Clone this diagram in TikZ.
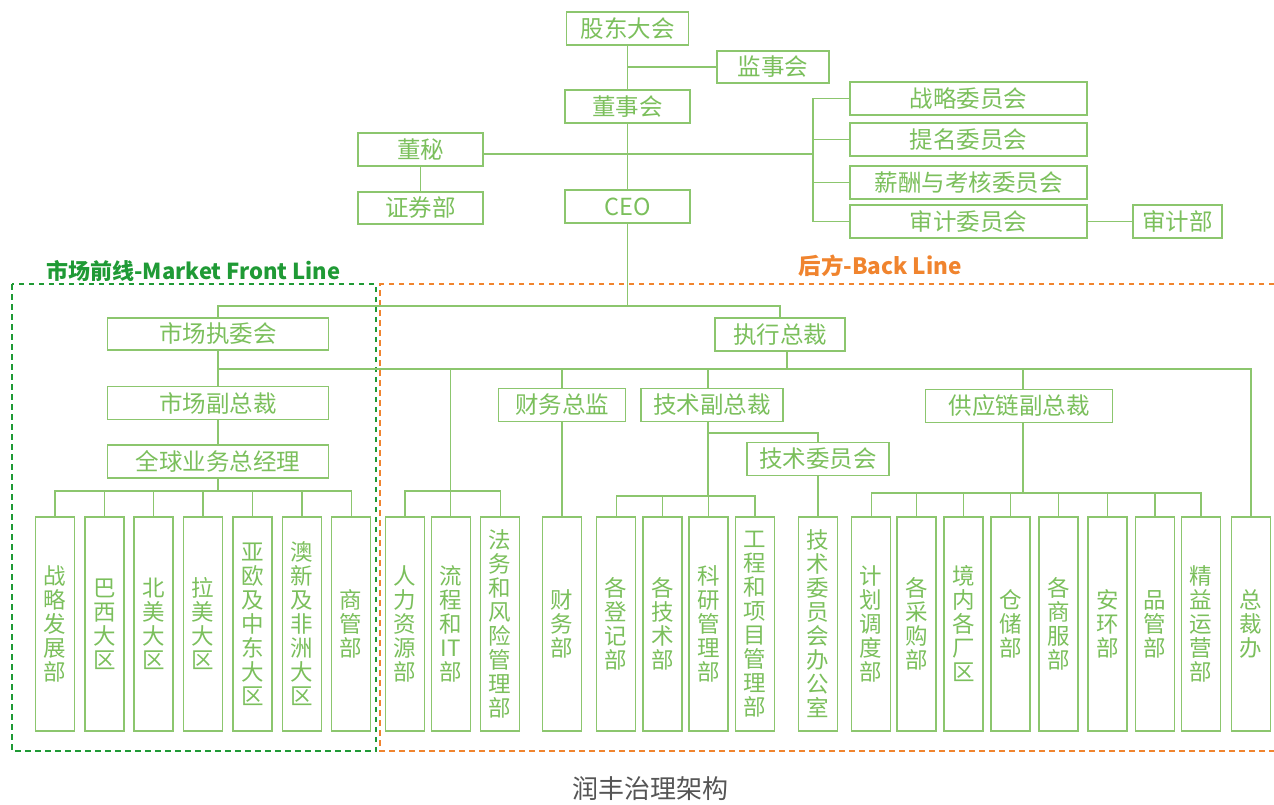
\documentclass[tikz,border=0pt]{standalone}
\usepackage{fontspec}
\usetikzlibrary{calc}
\newfontfamily\cjk{Noto Sans CJK SC}
\definecolor{boxgreen}{HTML}{8CC66E}
\definecolor{txtgreen}{HTML}{7BBF5C}
\definecolor{frontgreen}{HTML}{1F9A35}
\definecolor{backorange}{HTML}{F0842E}
\definecolor{capgray}{HTML}{555555}
\newcommand{\boxh}{33pt}
\newcommand{\tallh}{214pt}

\begin{document}
\begin{tikzpicture}[x=1pt,y=-1pt,
  box/.style={draw=boxgreen, line width=1.4pt, text=txtgreen, inner sep=0pt, minimum height=\boxh, font=\cjk\fontsize{23.5}{24}\selectfont},
  tall/.style={box, minimum width=39pt, minimum height=\tallh, align=center, font=\cjk\fontsize{22.5}{24}\selectfont},
  link/.style={draw=boxgreen, line width=1.2pt},
  zone/.style={line width=2.6pt, dash pattern=on 5.5pt off 4.5pt}]
\useasboundingbox (0,0) rectangle (1274,805);

      \draw[zone, backorange] (1274,284) -- (380,284) -- (380,751) -- (1274,751);
      \draw[zone, frontgreen] (12,284) rectangle (376,751);
      \node (80) at (43,271) [anchor=west, text=frontgreen, font=\cjk\bfseries\fontsize{22}{24}\selectfont] {市场前线-Market Front Line};
      \node (81) at (795,266) [anchor=west, text=backorange, font=\cjk\bfseries\fontsize{22.5}{24}\selectfont] {后方-Back Line};

      \node (1) at (627.5,28.5) [box, minimum width=122pt] {股东大会};
      \node (2) at (773,67) [box, minimum width=112pt, minimum height=32pt] {监事会};
      \node (3) at (627.5,106.5) [box, minimum width=125pt] {董事会};
      \node (4) at (420.5,149.5) [box, minimum width=125pt] {董秘};
      \node (5) at (420.5,208) [box, minimum width=125pt, minimum height=32pt] {证券部};
      \node (6) at (627.5,206.5) [box, minimum width=125pt] {CEO};
      \node (7) at (968.5,98.5) [box, minimum width=237pt] {战略委员会};
      \node (8) at (968.5,139.5) [box, minimum width=237pt] {提名委员会};
      \node (9) at (968.5,182.5) [box, minimum width=237pt] {薪酬与考核委员会};
      \node (10) at (968.5,221.5) [box, minimum width=237pt] {审计委员会};
      \node (11) at (1177.5,221.5) [box, minimum width=89pt] {审计部};

      \node (12) at (218,334) [box, minimum width=221pt, minimum height=32pt] {市场执委会};
      \node (13) at (780,334.5) [box, minimum width=130pt] {执行总裁};
      \node (14) at (218,403) [box, minimum width=221pt] {市场副总裁};
      \node (15) at (218,461.5) [box, minimum width=221pt] {全球业务总经理};
      \node (16) at (562,405) [box, minimum width=127pt] {财务总监};
      \node (17) at (712,405) [box, minimum width=142pt] {技术副总裁};
      \node (18) at (818,459) [box, minimum width=142pt] {技术委员会};
      \node (19) at (1019,406) [box, minimum width=187pt] {供应链副总裁};

      \node (21) at (55,624) [tall] {战\\略\\发\\展\\部};
      \node (22) at (104.3,624) [tall] {巴\\西\\大\\区};
      \node (23) at (153.6,624) [tall] {北\\美\\大\\区};
      \node (24) at (203,624) [tall] {拉\\美\\大\\区};
      \node (25) at (252.4,624) [tall] {亚\\欧\\及\\中\\东\\大\\区};
      \node (26) at (302,624) [tall] {澳\\新\\及\\非\\洲\\大\\区};
      \node (27) at (351.2,624) [tall] {商\\管\\部};
      \node (31) at (405,624) [tall] {人\\力\\资\\源\\部};
      \node (32) at (450.8,624) [tall] {流\\程\\和\\IT\\部};
      \node (33) at (500.2,624) [tall] {法\\务\\和\\风\\险\\管\\理\\部};
      \node (41) at (562,624) [tall] {财\\务\\部};
      \node (51) at (616.2,624) [tall] {各\\登\\记\\部};
      \node (52) at (662.5,624) [tall] {各\\技\\术\\部};
      \node (53) at (708.5,624) [tall] {科\\研\\管\\理\\部};
      \node (54) at (755,624) [tall] {工\\程\\和\\项\\目\\管\\理\\部};
      \node (55) at (818,624) [tall] {技\\术\\委\\员\\会\\办\\公\\室};
      \node (61) at (871.2,624) [tall] {计\\划\\调\\度\\部};
      \node (62) at (916.5,624) [tall] {各\\采\\购\\部};
      \node (63) at (963.5,624) [tall] {境\\内\\各\\厂\\区};
      \node (64) at (1010.5,624) [tall] {仓\\储\\部};
      \node (65) at (1058.5,624) [tall] {各\\商\\服\\部};
      \node (66) at (1107.5,624) [tall] {安\\环\\部};
      \node (67) at (1155,624) [tall] {品\\管\\部};
      \node (68) at (1201,624) [tall] {精\\益\\运\\营\\部};
      \node (71) at (1251,624) [tall] {总\\裁\\办};

      \node (90) at (650,789) [text=capgray, font=\cjk\fontsize{26}{28}\selectfont] {润丰治理架构};

      \coordinate (b1) at (813,154);
      \coordinate (j1) at (627.5,306);
      \coordinate (j2) at (787,369);
      \coordinate (j3) at (218,491);
      \coordinate (j4) at (449,491);
      \coordinate (j5) at (708,496);
      \coordinate (j6) at (708,433);
      \coordinate (j7) at (1023,493);

      \draw[link] (1) to (3) to (6) to (j1);
      \draw[link] (2.west) to (2.west -| 1.south);
      \draw[link] (4) to (5);
      \draw[link] (4.east |- b1) to (b1);
      \draw[link] (7.west) -| (b1) |- (10.west);
      \draw[link] (8.west) to (8.west -| b1);
      \draw[link] (9.west) to (9.west -| b1);
      \draw[link] (10) to (11);

      \draw[link] (12.north) |- (j1) -| (13.north);
      \draw[link] (13.south -| j2) to (j2);
      \draw[link] (12) to (14) to (15) to (j3);
      \draw[link] (12.south |- j2) -| (71.north);
      \draw[link] (32.north) to (32.north |- j2);
      \draw[link] (16.north) to (16.north |- j2);
      \draw[link] (16) to (41);
      \draw[link] (17.north -| j5) to (j5 |- j2);
      \draw[link] (17.south -| j5) to (j5);
      \draw[link] (j6) -| (18.north);
      \draw[link] (18) to (55);
      \draw[link] (19.north -| j7) to (j7 |- j2);
      \draw[link] (19.south -| j7) to (j7);

      \draw[link] (21.north) |- (27.north |- j3) to (27.north);
      \foreach \n in {22,...,26} \draw[link] (\n.north) to (\n.north |- j3);
      \draw[link] (31.north) |- (33.north |- j4) to (33.north);
      \draw[link] (51.north) |- (54.north |- j5) to (54.north);
      \foreach \n in {52,53} \draw[link] (\n.north) to (\n.north |- j5);
      \draw[link] (61.north) |- (68.north |- j7) to (68.north);
      \foreach \n in {62,...,67} \draw[link] (\n.north) to (\n.north |- j7);

\end{tikzpicture}
\end{document}
